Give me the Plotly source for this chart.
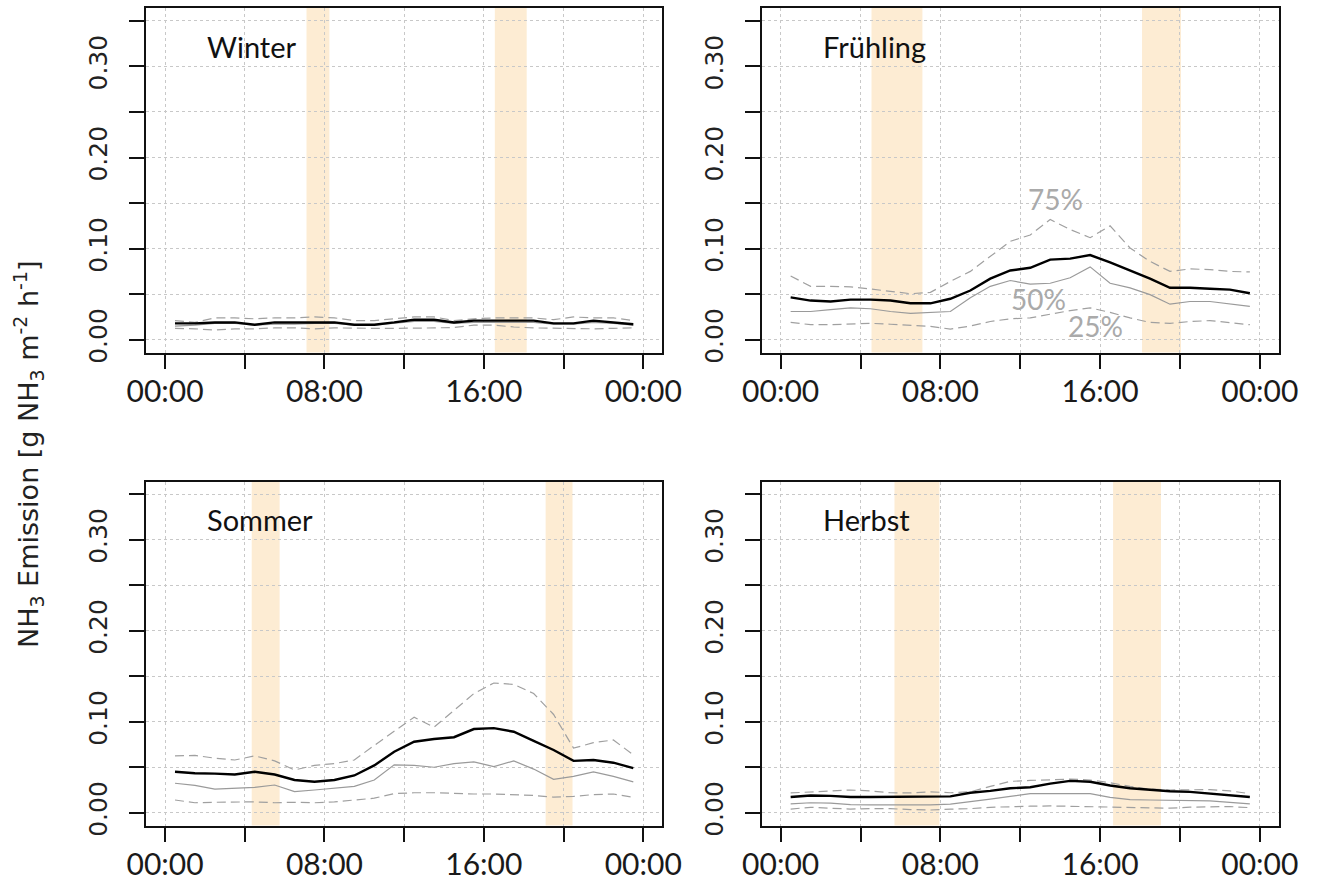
import plotly.graph_objects as go

# hourly values plotted at mid-hour
HOURS = [h + 0.5 for h in range(24)]

SEASONS = ["Winter", "Frühling", "Sommer", "Herbst"]

winter_mean = [0.018, 0.018, 0.019, 0.019, 0.0165, 0.019, 0.019, 0.019, 0.019, 0.0165, 0.0165, 0.019,
               0.022, 0.022, 0.019, 0.021, 0.021, 0.021, 0.021, 0.018, 0.018, 0.021, 0.019, 0.017]
winter_median = [0.015, 0.016, 0.018, 0.018, 0.016, 0.017, 0.017, 0.018, 0.018, 0.016, 0.016, 0.018,
                 0.020, 0.020, 0.018, 0.019, 0.019, 0.019, 0.019, 0.017, 0.017, 0.019, 0.018, 0.016]
winter_q75 = [0.021, 0.019, 0.024, 0.024, 0.023, 0.024, 0.024, 0.025, 0.024, 0.021, 0.021, 0.023,
              0.025, 0.025, 0.021, 0.023, 0.024, 0.024, 0.024, 0.022, 0.025, 0.024, 0.024, 0.021]
winter_q25 = [0.0125, 0.012, 0.0106, 0.012, 0.012, 0.013, 0.013, 0.012, 0.013, 0.0125, 0.0125, 0.0125,
              0.0125, 0.013, 0.0135, 0.016, 0.016, 0.014, 0.013, 0.0125, 0.012, 0.012, 0.0125, 0.013]

spring_mean = [0.0465, 0.043, 0.042, 0.044, 0.044, 0.043, 0.040, 0.040, 0.045, 0.054, 0.067, 0.076,
               0.079, 0.088, 0.089, 0.093, 0.085, 0.076, 0.067, 0.057, 0.057, 0.056, 0.055, 0.051]
spring_median = [0.031, 0.031, 0.033, 0.035, 0.034, 0.031, 0.029, 0.030, 0.031, 0.046, 0.0586, 0.065,
                 0.061, 0.062, 0.068, 0.080, 0.062, 0.057, 0.0495, 0.039, 0.042, 0.042, 0.039, 0.0366]
spring_q75 = [0.070, 0.0586, 0.0586, 0.058, 0.0557, 0.053, 0.0505, 0.052, 0.064, 0.075, 0.0916, 0.108,
              0.115, 0.132, 0.121, 0.112, 0.125, 0.1007, 0.086, 0.075, 0.0777, 0.077, 0.075, 0.0744]
spring_q25 = [0.019, 0.0165, 0.0165, 0.017, 0.018, 0.017, 0.016, 0.0147, 0.0117, 0.015, 0.020, 0.023,
              0.024, 0.028, 0.032, 0.035, 0.030, 0.024, 0.019, 0.018, 0.020, 0.021, 0.019, 0.0165]

summer_mean = [0.045, 0.0434, 0.043, 0.042, 0.045, 0.042, 0.036, 0.034, 0.036, 0.041, 0.052, 0.067,
               0.078, 0.081, 0.083, 0.092, 0.093, 0.089, 0.079, 0.069, 0.057, 0.058, 0.055, 0.049]
summer_median = [0.0324, 0.030, 0.026, 0.027, 0.028, 0.0305, 0.0232, 0.025, 0.027, 0.029, 0.036, 0.0526,
                 0.052, 0.050, 0.054, 0.056, 0.0507, 0.057, 0.048, 0.0368, 0.040, 0.045, 0.040, 0.034]
summer_q75 = [0.0625, 0.063, 0.060, 0.058, 0.0625, 0.057, 0.047, 0.052, 0.054, 0.058, 0.074, 0.090,
              0.105, 0.094, 0.113, 0.131, 0.1426, 0.141, 0.131, 0.108, 0.071, 0.077, 0.080, 0.0636]
summer_q25 = [0.014, 0.011, 0.0115, 0.012, 0.012, 0.011, 0.0115, 0.011, 0.012, 0.014, 0.016, 0.021,
              0.022, 0.022, 0.021, 0.0206, 0.0206, 0.020, 0.019, 0.0172, 0.018, 0.020, 0.0206, 0.017]

autumn_mean = [0.0173, 0.019, 0.0185, 0.0173, 0.0173, 0.0173, 0.0173, 0.0173, 0.018, 0.022, 0.024, 0.027,
               0.028, 0.032, 0.035, 0.034, 0.030, 0.027, 0.025, 0.0237, 0.023, 0.021, 0.019, 0.0173]
autumn_median = [0.0098, 0.011, 0.0105, 0.009, 0.0086, 0.0086, 0.0086, 0.0086, 0.0095, 0.012, 0.015, 0.018,
                 0.021, 0.021, 0.021, 0.021, 0.017, 0.0145, 0.014, 0.0135, 0.0135, 0.013, 0.0115, 0.0098]
autumn_q75 = [0.0218, 0.023, 0.0235, 0.025, 0.024, 0.022, 0.0218, 0.023, 0.022, 0.023, 0.029, 0.0345,
              0.0355, 0.036, 0.037, 0.036, 0.033, 0.029, 0.026, 0.025, 0.025, 0.0255, 0.024, 0.021]
autumn_q25 = [0.0041, 0.006, 0.005, 0.0041, 0.0045, 0.0045, 0.0035, 0.003, 0.004, 0.0045, 0.006, 0.0068,
              0.0072, 0.0075, 0.007, 0.0065, 0.006, 0.0062, 0.005, 0.005, 0.0062, 0.0068, 0.0068, 0.0056]

# sunrise / sunset ranges (hours)
sunrise_start = [7.1, 4.55, 4.35, 5.7]
sunrise_end = [8.25, 7.1, 5.75, 7.95]
sunset_start = [16.55, 18.1, 19.1, 16.65]
sunset_end = [18.15, 20.05, 20.45, 19.05]

Y_TICKS = [0.0, 0.05, 0.10, 0.15, 0.20, 0.25, 0.30, 0.35]
Y_TICKTEXT = ["0.00", "", "0.10", "", "0.20", "", "0.30", ""]
X_TICKS = [0, 4, 8, 12, 16, 20, 24]
X_TICKTEXT = ["00:00", "", "08:00", "", "16:00", "", "00:00"]

series = [
    (winter_mean, winter_median, winter_q75, winter_q25),
    (spring_mean, spring_median, spring_q75, spring_q25),
    (summer_mean, summer_median, summer_q75, summer_q25),
    (autumn_mean, autumn_median, autumn_q75, autumn_q25),
]

W, H = 1318, 888
X_DOMAINS = [[145.9 / W, 662.4 / W], [761.5 / W, 1279.0 / W]]
Y_DOMAINS = [[(H - 352.5) / H, (H - 8.1) / H], [(H - 825.5) / H, (H - 481.5) / H]]

fig = go.Figure()
layout = dict(
    width=W, height=H,
    margin=dict(l=0, r=0, t=0, b=0),
    paper_bgcolor="white", plot_bgcolor="rgba(0,0,0,0)",
    showlegend=False,
    shapes=[], annotations=[],
)

GRID = "#c8c8c8"
XFONT = dict(family="Lato, DejaVu Sans Condensed, sans-serif", size=30, color="#1a1a1a")
YFONT = dict(family="DejaVu Sans, sans-serif", size=25, color="#222")

for i, season in enumerate(SEASONS):
    r, c = divmod(i, 2)
    n = i + 1
    xa = "x" if n == 1 else f"x{n}"
    ya = "y" if n == 1 else f"y{n}"
    mean, med, q75, q25 = series[i]
    for vals, color, width, dash in [
        (q75, "#a0a0a0", 1.2, "9px,5px"),
        (q25, "#a0a0a0", 1.2, "9px,5px"),
        (med, "#9a9a9a", 1.2, "solid"),
        (mean, "#000000", 2.4, "solid"),
    ]:
        fig.add_trace(go.Scatter(x=HOURS, y=vals, mode="lines", xaxis=xa, yaxis=ya,
                                 line=dict(color=color, width=width, dash=dash),
                                 hoverinfo="skip"))
    for s, e in [(sunrise_start[i], sunrise_end[i]), (sunset_start[i], sunset_end[i])]:
        layout["shapes"].append(dict(type="rect", xref=xa, yref=f"{ya} domain",
                                     x0=s, x1=e, y0=0, y1=1, layer="below",
                                     fillcolor="#FDECD3", line=dict(width=0)))
    layout["annotations"].append(dict(text=season, x=2.0, y=0.322, xref=xa, yref=ya,
                                      xanchor="left", yanchor="middle", showarrow=False,
                                      font=dict(family="Lato, DejaVu Sans Condensed, sans-serif",
                                                size=29, color="#111")))
    axkey_x = "xaxis" if n == 1 else f"xaxis{n}"
    axkey_y = "yaxis" if n == 1 else f"yaxis{n}"
    layout[axkey_x] = dict(domain=X_DOMAINS[c], anchor=ya, range=[-0.96, 24.96],
                           tickmode="array", tickvals=X_TICKS, ticktext=X_TICKTEXT,
                           ticks="outside", ticklen=15, tickwidth=1.5, tickcolor="#111",
                           showline=True, linecolor="#111", linewidth=1.5, mirror=True,
                           showgrid=True, gridcolor=GRID, griddash="dot", gridwidth=1,
                           zeroline=False, tickfont=XFONT, automargin=False,
                           ticklabelstandoff=-3)
    layout[axkey_y] = dict(domain=Y_DOMAINS[r], anchor=xa, range=[-0.014, 0.364],
                           tickmode="array", tickvals=Y_TICKS, ticktext=Y_TICKTEXT,
                           ticks="outside", ticklen=15, tickwidth=1.5, tickcolor="#111",
                           showline=True, linecolor="#111", linewidth=1.5, mirror=True,
                           showgrid=True, gridcolor=GRID, griddash="dot", gridwidth=1,
                           zeroline=False, tickfont=YFONT, tickangle=-90, automargin=False,
                           ticklabelstandoff=12)

# percentile labels in the spring panel
PCT_LABELS = ["75%", "50%", "25%"]
PCT_X = [13.76, 12.93, 15.79]
PCT_Y = [0.154, 0.045, 0.0154]
for t, px, py in zip(PCT_LABELS, PCT_X, PCT_Y):
    layout["annotations"].append(dict(text=t, x=px, y=py, xref="x2", yref="y2",
                                      xanchor="center", yanchor="middle", showarrow=False,
                                      font=dict(family="Lato, DejaVu Sans Condensed, sans-serif",
                                                size=28, color="#aaaaaa")))

layout["annotations"].append(dict(
    text="NH<sub>3</sub> Emission [g NH<sub>3</sub> m<sup>-2</sup> h<sup>-1</sup>]",
    x=28 / W, y=(H - 455) / H, xref="paper", yref="paper", textangle=-90,
    xanchor="center", yanchor="middle", showarrow=False,
    font=dict(family="DejaVu Sans, sans-serif", size=27, color="#222")))

fig.update_layout(**layout)
fig.write_html("out.html")
